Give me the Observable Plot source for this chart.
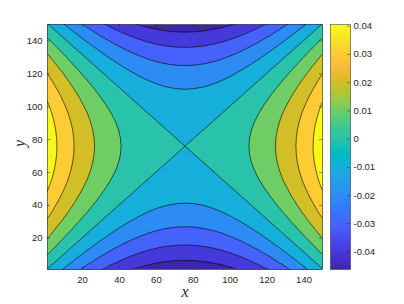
<!DOCTYPE html>
<html>
<head>
<meta charset="utf-8">
<script src="https://cdn.jsdelivr.net/npm/d3@7"></script>
<script src="https://cdn.jsdelivr.net/npm/@observablehq/plot@0.6"></script>
<style>
html, body { margin: 0; padding: 0; background: #fff; }
#wrap { position: relative; width: 404px; height: 304px; overflow: hidden; }
#wrap svg { position: absolute; top: 0; }
</style>
</head>
<body>
<div id="wrap"></div>
<script>
// ---- data ----
// Field value along the centre row (through the saddle), sampled every 5 units of x
const profileX = [0.5,5.5,10.5,15.5,20.5,25.5,30.5,35.5,40.5,45.5,50.5,55.5,60.5,65.5,70.5,75.5,80.5,85.5,90.5,95.5,100.5,105.5,110.5,115.5,120.5,125.5,130.5,135.5,140.5,145.5,150.5];
const rowValues = [0.0467,0.0407,0.0351,0.0299,0.0251,0.0208,0.0168,0.0133,0.0102,0.0075,0.0052,0.0033,0.0019,0.00083,0.00021,0,0.00021,0.00083,0.0019,0.0033,0.0052,0.0075,0.0102,0.0133,0.0168,0.0208,0.0251,0.0299,0.0351,0.0407,0.0467];
// Field value along the centre column (through the saddle), sampled every 5 units of y
const profileY = [1,6,11,16,21,26,31,36,41,46,51,56,61,66,71,76,81,86,91,96,101,106,111,116,121,126,131,136,141,146,151];
const columnValues = [-0.0467,-0.0407,-0.0351,-0.0299,-0.0251,-0.0208,-0.0168,-0.0133,-0.0102,-0.0075,-0.0052,-0.0033,-0.0019,-0.00083,-0.00021,0,-0.00021,-0.00083,-0.0019,-0.0033,-0.0052,-0.0075,-0.0102,-0.0133,-0.0168,-0.0208,-0.0251,-0.0299,-0.0351,-0.0407,-0.0467];
const levels = [-0.04,-0.03,-0.02,-0.01,0,0.01,0.02,0.03,0.04];
const xTicks = [20,40,60,80,100,120,140];
const yTicks = [20,40,60,80,100,120,140];
const cbTicks = [-0.04,-0.03,-0.02,-0.01,0,0.01,0.02,0.03,0.04];
const colorMin = -0.0462, colorMax = 0.0406;
const xLabel = "x", yLabel = "y";

// parula colormap (64 entries)
const parula = ["#3e26a8","#402ab4","#422ec0","#4332cb","#4537d5","#463cde","#4741e5","#4747eb","#484df0","#4852f4","#4758f8","#465efb","#4563fd","#4269fe","#3e6fff","#3875fe","#327cfc","#2f81fa","#2e87f7","#2d8cf3","#2b91ef","#2797eb","#259be8","#23a0e5","#20a5e3","#1ca9df","#18addb","#12b1d6","#08b5d0","#01b8ca","#02bac3","#0bbdbd","#19bfb6","#24c1ae","#2cc4a7","#31c69f","#37c897","#3fca8e","#4acb84","#57cc7a","#64cd6f","#72cd64","#81cc59","#8fcb4e","#9dc943","#abc739","#b9c431","#c5c22a","#d1bf27","#dcbd29","#e6bb2d","#f0ba36","#f8ba3d","#febe3c","#fec338","#fec934","#fccf30","#fad62d","#f7dc2a","#f5e327","#f5e924","#f6ef20","#f7f51b","#f9fb15"];

const rowAt = d3.scaleLinear().domain(profileX).range(rowValues);
const colAt = d3.scaleLinear().domain(profileY).range(columnValues);
const field = (x, y) => rowAt(x) + colAt(y);

const axisColor = "#262626";
const W = 330, H = 304, mL = 47, mR = 8, mT = 24, mB = 35;
const fw = W - mL - mR, fh = H - mT - mB;
const tickLen = 3;
const baseStyle = {fontFamily: "'Liberation Sans', Arial, Helvetica, sans-serif", fontSize: "9.5px", color: axisColor, background: "transparent", overflow: "visible"};
const colorOpts = () => ({type: "linear", domain: [colorMin, colorMax], interpolate: d3.piecewise(d3.interpolateRgb, parula), clamp: true});

const main = Plot.plot({
  width: W, height: H, marginLeft: mL, marginRight: mR, marginTop: mT, marginBottom: mB,
  style: baseStyle,
  x: {domain: [1, 150], ticks: xTicks, tickSize: 0, tickPadding: 7, label: null},
  y: {domain: [1, 150], ticks: yTicks, tickSize: 0, tickPadding: 5, label: null},
  color: colorOpts(),
  marks: [
    Plot.contour({x1: 1, x2: 150, y1: 1, y2: 150, fill: field, stroke: "none", thresholds: [-1, ...levels], pixelSize: 1}),
    Plot.contour({x1: -4, x2: 155, y1: -4, y2: 155, value: field, fill: "none", stroke: "black", strokeWidth: 0.6, thresholds: levels, pixelSize: 1, clip: true}),
    Plot.tickX(xTicks, {x: d => d, insetTop: fh - tickLen, stroke: axisColor, strokeWidth: 0.5}),
    Plot.tickX(xTicks, {x: d => d, insetBottom: fh - tickLen, stroke: axisColor, strokeWidth: 0.5}),
    Plot.tickY(yTicks, {y: d => d, insetRight: fw - tickLen, stroke: axisColor, strokeWidth: 0.5}),
    Plot.tickY(yTicks, {y: d => d, insetLeft: fw - tickLen, stroke: axisColor, strokeWidth: 0.5}),
    Plot.frame({stroke: axisColor, strokeWidth: 0.5}),
    Plot.text([xLabel], {text: d => d, frameAnchor: "bottom", dy: 27, fontFamily: "'Liberation Serif', 'DejaVu Serif', serif", fontStyle: "italic", fontSize: 16, fill: axisColor}),
    Plot.text([yLabel], {text: d => d, frameAnchor: "left", dx: -28, rotate: -90, fontFamily: "'Liberation Serif', 'DejaVu Serif', serif", fontStyle: "italic", fontSize: 16, fill: axisColor})
  ]
});
main.style.left = "0px";

const cbW = 82, cbL = 8, cbBar = 20;
const cb = Plot.plot({
  width: cbW, height: H, marginLeft: cbL, marginRight: cbW - cbL - cbBar, marginTop: mT, marginBottom: mB,
  style: baseStyle,
  x: {domain: [0, 1], axis: null},
  y: {domain: [colorMin, colorMax], ticks: cbTicks, tickSize: 0, tickPadding: 3, axis: "right", label: null,
      tickFormat: d => Math.abs(d) < 1e-12 ? "0" : d.toFixed(2)},
  color: colorOpts(),
  marks: [
    Plot.raster({x1: 0, x2: 1, y1: colorMin, y2: colorMax, fill: (x, y) => y, pixelSize: 1}),
    Plot.tickY(cbTicks, {y: d => d, insetLeft: cbBar - tickLen, stroke: axisColor, strokeWidth: 0.5}),
    Plot.frame({stroke: axisColor, strokeWidth: 0.5})
  ]
});
cb.style.left = (mL + fw) + "px";

const wrap = document.getElementById("wrap");
wrap.appendChild(main);
wrap.appendChild(cb);
</script>
</body>
</html>
